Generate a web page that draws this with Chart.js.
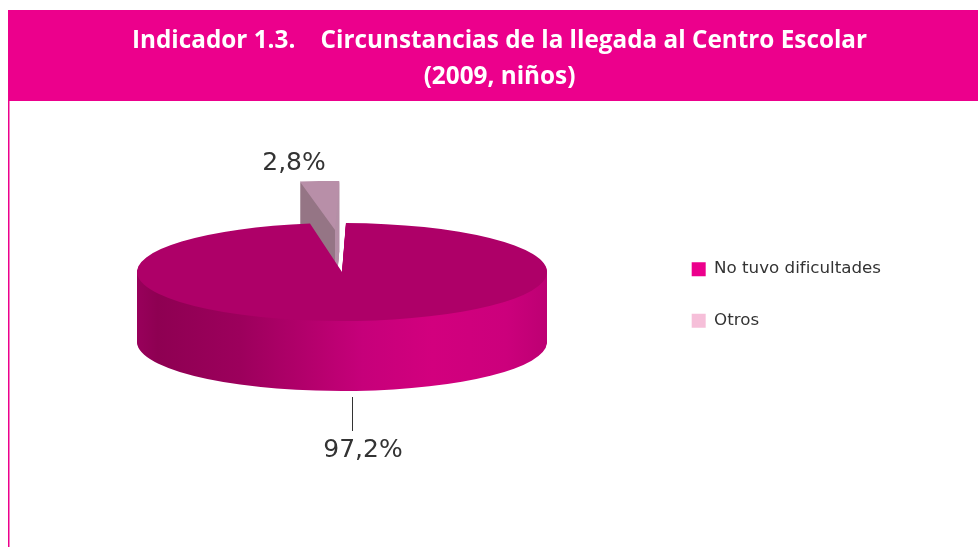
<!DOCTYPE html>
<html lang="es">
<head>
<meta charset="utf-8">
<title>Indicador 1.3</title>
<script src="https://cdn.jsdelivr.net/npm/chart.js@4"></script>
<style>
html,body{margin:0;padding:0;background:#fff;overflow:hidden}
#wrap{position:relative;width:978px;height:547px}
</style>
</head>
<body>
<div id="wrap"><canvas id="c" width="978" height="547"></canvas></div>
<script>
const categories = ['No tuvo dificultades', 'Otros'];
const values = [97.2, 2.8];
const legendColors = ['#ec008c', '#f6bfd9'];
const titleLines = ['Indicador 1.3.    Circunstancias de la llegada al Centro Escolar', '(2009, niños)'];

const PIE = {x: 342, y: 272, r: 205, k: 49 / 205, depth: 70, sliceDx: -7, sliceDy: -42, sliceSx: 1.1};

function fmt(v) { return v.toFixed(1).replace('.', ',') + '%'; }

function paintArc(ctx, arc, color) {
  const saved = arc.options;
  arc.options = Object.assign({}, saved, {backgroundColor: color, borderWidth: 0});
  arc.draw(ctx);
  arc.options = saved;
}
function place(ctx, arc, dx, dy, sx) {
  ctx.translate(PIE.x + dx, PIE.y + dy);
  ctx.scale(sx || 1, PIE.k);
  ctx.translate(-arc.x, -arc.y);
}

const pie3d = {
  id: 'pie3d',
  beforeDraw(chart) {
    const ctx = chart.ctx;
    ctx.save();
    ctx.fillStyle = '#ec008c';
    ctx.fillRect(8, 10, 970, 91);
    ctx.fillRect(8, 101, 1.5, 446);
    ctx.restore();
  },
  beforeDatasetsDraw(chart) {
    const ctx = chart.ctx;
    const [main, other] = chart.getDatasetMeta(0).data;

    // main slice wall
    const wall = ctx.createLinearGradient(main.x - PIE.r, 0, main.x + PIE.r, 0);
    wall.addColorStop(0, '#98005b');
    wall.addColorStop(0.05, '#8e0052');
    wall.addColorStop(0.25, '#9c005c');
    wall.addColorStop(0.45, '#b8006f');
    wall.addColorStop(0.55, '#c6007a');
    wall.addColorStop(0.72, '#d2007e');
    wall.addColorStop(0.9, '#cc007c');
    wall.addColorStop(1, '#bd0073');
    for (let d = PIE.depth; d >= 1; d--) {
      ctx.save();
      place(ctx, main, 0, d);
      paintArc(ctx, main, wall);
      ctx.restore();
    }

    // raised slice body and top face
    const side = ctx.createLinearGradient(other.x - 50, 0, other.x + 50, 0);
    side.addColorStop(0, '#957585');
    side.addColorStop(0.5, '#957585');
    side.addColorStop(0.5, '#b48fa6');
    side.addColorStop(1, '#b48fa6');
    for (let d = PIE.depth; d >= 1; d--) {
      ctx.save();
      place(ctx, other, PIE.sliceDx, PIE.sliceDy + d, PIE.sliceSx);
      paintArc(ctx, other, side);
      ctx.restore();
    }
    ctx.save();
    place(ctx, other, PIE.sliceDx, PIE.sliceDy, PIE.sliceSx);
    paintArc(ctx, other, '#b88fa8');
    ctx.restore();

    // main slice top face
    ctx.save();
    place(ctx, main, 0, 0);
    paintArc(ctx, main, '#ae0068');
    ctx.restore();

    // value labels
    ctx.save();
    ctx.fillStyle = '#333333';
    ctx.font = '25px "DejaVu Sans"';
    ctx.textAlign = 'center';
    ctx.textBaseline = 'alphabetic';
    ctx.fillText(fmt(values[1]), 294, 170);
    ctx.fillText(fmt(values[0]), 363, 457);
    ctx.strokeStyle = '#333333';
    ctx.lineWidth = 1;
    ctx.beginPath();
    ctx.moveTo(352.5, 397);
    ctx.lineTo(352.5, 431);
    ctx.stroke();
    ctx.restore();
    return false;
  }
};

new Chart(document.getElementById('c'), {
  type: 'pie',
  data: {
    labels: categories,
    datasets: [{
      data: values,
      backgroundColor: legendColors,
      borderWidth: 0,
      radius: PIE.r,
      clip: false
    }]
  },
  options: {
    responsive: false,
    animation: false,
    rotation: 1.1,
    layout: {padding: {left: 108, right: 87, top: 0, bottom: 58}},
    plugins: {
      tooltip: {enabled: false},
      title: {
        display: true,
        text: titleLines,
        color: '#ffffff',
        font: {family: '"Open Sans", sans-serif', size: 24.3, weight: 'bold', lineHeight: 36 / 24.3},
        padding: {top: 23, bottom: 6}
      },
      legend: {
        display: true,
        position: 'right',
        fullSize: false,
        labels: {
          color: '#333333',
          font: {family: '"DejaVu Sans"', size: 16.7},
          boxWidth: 14,
          boxHeight: 14,
          padding: 35
        }
      }
    }
  },
  plugins: [pie3d]
});
</script>
</body>
</html>
